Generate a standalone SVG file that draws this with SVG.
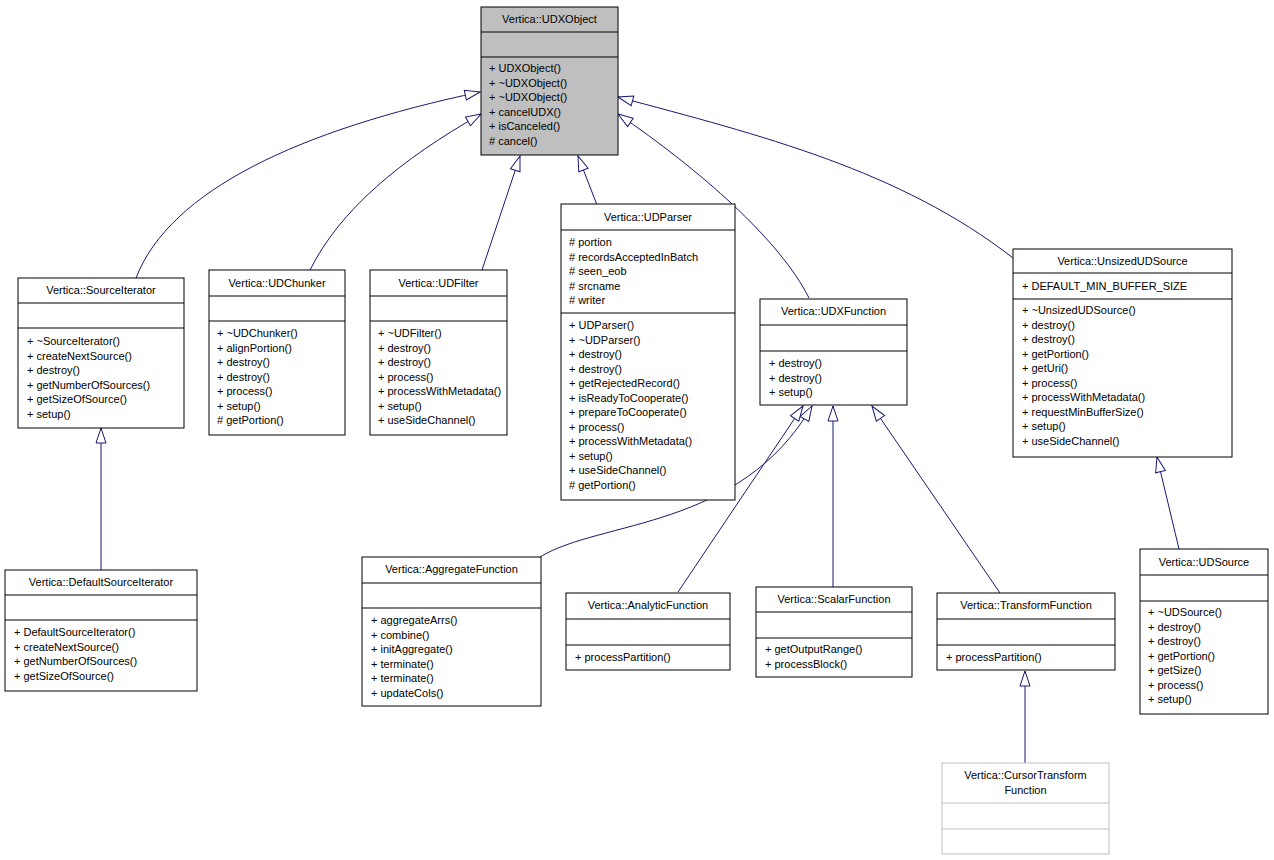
<svg xmlns="http://www.w3.org/2000/svg" width="1274" height="860" viewBox="0 0 1274 860">
<style>
text{font-family:"Liberation Sans",Arial,sans-serif;font-size:11px;fill:#000}
.t{text-anchor:middle}
.b{fill:#fff;stroke:#000;stroke-width:1}
.g{fill:#fff;stroke:#bfbfbf;stroke-width:1}
.k{fill:#bfbfbf;stroke:#000;stroke-width:1}
.s{stroke:#000;stroke-width:1}
.sg{stroke:#bfbfbf;stroke-width:1}
.e{fill:none;stroke:#191970;stroke-width:1;marker-end:url(#a)}
</style>
<defs>
<marker id="a" markerUnits="userSpaceOnUse" markerWidth="18" markerHeight="14" viewBox="-16 -6 18 12" refX="0" refY="0" orient="auto">
<path d="M0,0 L-15,-5 L-15,5 Z" fill="#fff" stroke="#191970" stroke-width="1"/>
</marker>
</defs>
<g id="edges">
<path class="e" d="M136,278 C170,190 300,130 480,92"/>
<path class="e" d="M310,270 C340,210 400,160 481,114"/>
<path class="e" d="M482,270 L520,156"/>
<path class="e" d="M597,205 L578,156"/>
<path class="e" d="M809,298 C780,240 700,170 618,114"/>
<path class="e" d="M1013,258 C900,170 760,135 618,97"/>
<path class="e" d="M101,570 L101,428"/>
<path class="e" d="M540,557 C600,520 740,530 812,406"/>
<path class="e" d="M678,592 L803,406"/>
<path class="e" d="M833,587 L833,406"/>
<path class="e" d="M1000,593 L872,406"/>
<path class="e" d="M1025,763 L1025,671"/>
<path class="e" d="M1179,549 L1157,457"/>
</g>
<g id="UDXObject">
<rect class="k" x="481" y="7" width="137" height="148"/>
<line class="s" x1="481" y1="32" x2="618" y2="32"/><line class="s" x1="481" y1="57" x2="618" y2="57"/>
<text class="t" x="549.5" y="23">Vertica::UDXObject</text>
<text x="489" y="72">+ UDXObject()</text><text x="489" y="86.5">+ ~UDXObject()</text><text x="489" y="101">+ ~UDXObject()</text><text x="489" y="115.5">+ cancelUDX()</text><text x="489" y="130">+ isCanceled()</text><text x="489" y="144.5"># cancel()</text>
</g>
<g id="SourceIterator">
<rect class="b" x="18" y="278" width="166" height="150"/>
<line class="s" x1="18" y1="303" x2="184" y2="303"/><line class="s" x1="18" y1="328" x2="184" y2="328"/>
<text class="t" x="101" y="294">Vertica::SourceIterator</text>
<text x="27" y="345">+ ~SourceIterator()</text><text x="27" y="359.5">+ createNextSource()</text><text x="27" y="374">+ destroy()</text><text x="27" y="388.5">+ getNumberOfSources()</text><text x="27" y="403">+ getSizeOfSource()</text><text x="27" y="417.5">+ setup()</text>
</g>
<g id="UDChunker">
<rect class="b" x="209" y="270" width="136" height="165"/>
<line class="s" x1="209" y1="296" x2="345" y2="296"/><line class="s" x1="209" y1="321" x2="345" y2="321"/>
<text class="t" x="277" y="287">Vertica::UDChunker</text>
<text x="217" y="337">+ ~UDChunker()</text><text x="217" y="351.5">+ alignPortion()</text><text x="217" y="366">+ destroy()</text><text x="217" y="380.5">+ destroy()</text><text x="217" y="395">+ process()</text><text x="217" y="409.5">+ setup()</text><text x="217" y="424"># getPortion()</text>
</g>
<g id="UDFilter">
<rect class="b" x="370" y="270" width="137" height="165"/>
<line class="s" x1="370" y1="296" x2="507" y2="296"/><line class="s" x1="370" y1="321" x2="507" y2="321"/>
<text class="t" x="438.5" y="287">Vertica::UDFilter</text>
<text x="378" y="337">+ ~UDFilter()</text><text x="378" y="351.5">+ destroy()</text><text x="378" y="366">+ destroy()</text><text x="378" y="380.5">+ process()</text><text x="378" y="395">+ processWithMetadata()</text><text x="378" y="409.5">+ setup()</text><text x="378" y="424">+ useSideChannel()</text>
</g>
<g id="UDParser">
<rect class="b" x="561" y="204" width="174" height="296"/>
<line class="s" x1="561" y1="230" x2="735" y2="230"/><line class="s" x1="561" y1="313" x2="735" y2="313"/>
<text class="t" x="648" y="221">Vertica::UDParser</text>
<text x="569" y="246"># portion</text><text x="569" y="260.5"># recordsAcceptedInBatch</text><text x="569" y="275"># seen_eob</text><text x="569" y="289.5"># srcname</text><text x="569" y="304"># writer</text>
<text x="569" y="329">+ UDParser()</text><text x="569" y="343.5">+ ~UDParser()</text><text x="569" y="358">+ destroy()</text><text x="569" y="372.5">+ destroy()</text><text x="569" y="387">+ getRejectedRecord()</text><text x="569" y="401.5">+ isReadyToCooperate()</text><text x="569" y="416">+ prepareToCooperate()</text><text x="569" y="430.5">+ process()</text><text x="569" y="445">+ processWithMetadata()</text><text x="569" y="459.5">+ setup()</text><text x="569" y="474">+ useSideChannel()</text><text x="569" y="488.5"># getPortion()</text>
</g>
<g id="UDXFunction">
<rect class="b" x="760" y="299" width="147" height="106"/>
<line class="s" x1="760" y1="325" x2="907" y2="325"/><line class="s" x1="760" y1="351" x2="907" y2="351"/>
<text class="t" x="833.5" y="315">Vertica::UDXFunction</text>
<text x="769" y="367">+ destroy()</text><text x="769" y="381.5">+ destroy()</text><text x="769" y="396">+ setup()</text>
</g>
<g id="UnsizedUDSource">
<rect class="b" x="1013" y="249" width="219" height="208"/>
<line class="s" x1="1013" y1="273" x2="1232" y2="273"/><line class="s" x1="1013" y1="299" x2="1232" y2="299"/>
<text class="t" x="1122.5" y="265">Vertica::UnsizedUDSource</text>
<text x="1022" y="290">+ DEFAULT_MIN_BUFFER_SIZE</text>
<text x="1022" y="314">+ ~UnsizedUDSource()</text><text x="1022" y="328.5">+ destroy()</text><text x="1022" y="343">+ destroy()</text><text x="1022" y="357.5">+ getPortion()</text><text x="1022" y="372">+ getUri()</text><text x="1022" y="386.5">+ process()</text><text x="1022" y="401">+ processWithMetadata()</text><text x="1022" y="415.5">+ requestMinBufferSize()</text><text x="1022" y="430">+ setup()</text><text x="1022" y="444.5">+ useSideChannel()</text>
</g>
<g id="DefaultSourceIterator">
<rect class="b" x="5" y="570" width="192" height="121"/>
<line class="s" x1="5" y1="595" x2="197" y2="595"/><line class="s" x1="5" y1="620" x2="197" y2="620"/>
<text class="t" x="101" y="586">Vertica::DefaultSourceIterator</text>
<text x="14" y="636">+ DefaultSourceIterator()</text><text x="14" y="650.5">+ createNextSource()</text><text x="14" y="665">+ getNumberOfSources()</text><text x="14" y="679.5">+ getSizeOfSource()</text>
</g>
<g id="AggregateFunction">
<rect class="b" x="362" y="557" width="179" height="149"/>
<line class="s" x1="362" y1="583" x2="541" y2="583"/><line class="s" x1="362" y1="608" x2="541" y2="608"/>
<text class="t" x="451.5" y="573">Vertica::AggregateFunction</text>
<text x="371" y="624">+ aggregateArrs()</text><text x="371" y="638.5">+ combine()</text><text x="371" y="653">+ initAggregate()</text><text x="371" y="667.5">+ terminate()</text><text x="371" y="682">+ terminate()</text><text x="371" y="696.5">+ updateCols()</text>
</g>
<g id="AnalyticFunction">
<rect class="b" x="566" y="593" width="164" height="77"/>
<line class="s" x1="566" y1="619" x2="730" y2="619"/><line class="s" x1="566" y1="645" x2="730" y2="645"/>
<text class="t" x="648" y="609">Vertica::AnalyticFunction</text>
<text x="575" y="661">+ processPartition()</text>
</g>
<g id="ScalarFunction">
<rect class="b" x="756" y="587" width="156" height="90"/>
<line class="s" x1="756" y1="612" x2="912" y2="612"/><line class="s" x1="756" y1="638" x2="912" y2="638"/>
<text class="t" x="834" y="603">Vertica::ScalarFunction</text>
<text x="765" y="653">+ getOutputRange()</text><text x="765" y="667.5">+ processBlock()</text>
</g>
<g id="TransformFunction">
<rect class="b" x="937" y="593" width="178" height="77"/>
<line class="s" x1="937" y1="619" x2="1115" y2="619"/><line class="s" x1="937" y1="645" x2="1115" y2="645"/>
<text class="t" x="1026" y="609">Vertica::TransformFunction</text>
<text x="946" y="661">+ processPartition()</text>
</g>
<g id="CursorTransformFunction">
<rect class="g" x="942" y="763" width="167" height="91"/>
<line class="sg" x1="942" y1="803" x2="1109" y2="803"/><line class="sg" x1="942" y1="829" x2="1109" y2="829"/>
<text class="t" x="1025.5" y="779">Vertica::CursorTransform</text>
<text class="t" x="1025.5" y="793.5">Function</text>
</g>
<g id="UDSource">
<rect class="b" x="1140" y="549" width="128" height="165"/>
<line class="s" x1="1140" y1="575" x2="1268" y2="575"/><line class="s" x1="1140" y1="601" x2="1268" y2="601"/>
<text class="t" x="1204" y="566">Vertica::UDSource</text>
<text x="1148" y="616">+ ~UDSource()</text><text x="1148" y="630.5">+ destroy()</text><text x="1148" y="645">+ destroy()</text><text x="1148" y="659.5">+ getPortion()</text><text x="1148" y="674">+ getSize()</text><text x="1148" y="688.5">+ process()</text><text x="1148" y="703">+ setup()</text>
</g>
</svg>
